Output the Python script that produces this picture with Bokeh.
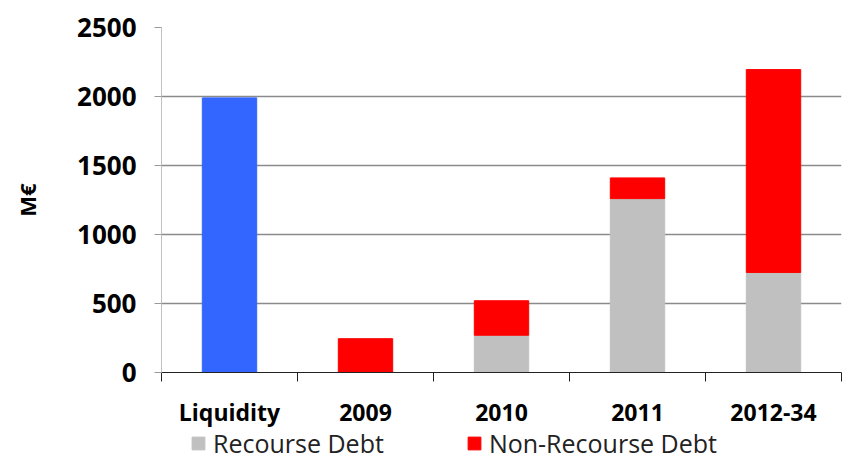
from bokeh.plotting import figure
from bokeh.layouts import column
from bokeh.models import ColumnDataSource, FixedTicker, Legend, LegendItem, Range1d
from bokeh.embed import file_html
from bokeh.resources import INLINE
import numpy as np

categories = ["Liquidity", "2009", "2010", "2011", "2012-34"]
liquidity = [1990, 0, 0, 0, 0]
recourse = [0, 0, 270, 1260, 725]
non_recourse = [0, 245, 250, 150, 1470]
y_ticks = [0, 500, 1000, 1500, 2000, 2500]
series_names = ["Recourse Debt", "Non-Recourse Debt"]
series_colors = ["#C0C0C0", "#FF0000"]

xc = np.arange(len(categories)) + 0.5
rec = np.array(recourse)
non = np.array(non_recourse)

src = ColumnDataSource(dict(x=xc, liq=liquidity, rec=rec, top2=rec + non))

p = figure(width=843, height=430, output_backend="svg", toolbar_location=None,
           x_range=Range1d(0, len(categories)), y_range=Range1d(0, 2500),
           min_border_left=161, min_border_right=2, min_border_top=27, min_border_bottom=58)
p.outline_line_color = None
p.xgrid.grid_line_color = None
p.ygrid.grid_line_color = "#8a8a8a"
p.ygrid.grid_line_width = 1.5
p.ygrid.ticker = FixedTicker(ticks=y_ticks)

w = 0.4
p.vbar(x="x", top="liq", width=w, source=src, color="#3366FF")
p.vbar(x="x", top="rec", bottom=0, width=w, source=src, color=series_colors[0])
p.vbar(x="x", top="top2", bottom="rec", width=w, source=src, color=series_colors[1])

# y axis
ya = p.yaxis[0]
ya.ticker = FixedTicker(ticks=y_ticks)
ya.axis_line_color = "#c0c0c0"
ya.major_tick_line_color = "#9a9a9a"
ya.major_tick_out = 7
ya.major_tick_in = 0
ya.minor_tick_line_color = None
ya.major_label_text_font = "Open Sans"
ya.major_label_text_font_style = "bold"
ya.major_label_text_font_size = "26px"
ya.major_label_text_color = "#000000"
ya.major_label_standoff = 18
ya.axis_label = "M€"
ya.axis_label_text_font = "Open Sans"
ya.axis_label_text_font_style = "bold"
ya.axis_label_text_font_size = "22px"
ya.axis_label_text_color = "#000000"
ya.axis_label_standoff = 32

# x axis
xa = p.xaxis[0]
xa.ticker = FixedTicker(ticks=list(xc), minor_ticks=list(range(len(categories) + 1)))
xa.major_label_overrides = {float(x): c for x, c in zip(xc, categories)}
xa.axis_line_color = "#222222"
xa.axis_line_width = 1.2
xa.major_tick_line_color = None
xa.minor_tick_line_color = "#222222"
xa.minor_tick_out = 9
xa.minor_tick_in = 0
xa.major_label_text_font = "Open Sans"
xa.major_label_text_font_style = "bold"
xa.major_label_text_font_size = "23px"
xa.major_label_text_color = "#000000"
xa.major_label_standoff = 14

# legend strip (its bars are hidden; only the legend shows)
pl = figure(width=843, height=30, output_backend="svg", toolbar_location=None,
            x_range=Range1d(0, len(categories)), y_range=Range1d(0, 2500),
            x_axis_type=None, y_axis_type=None, min_border=0,
            min_border_left=161, min_border_right=2)
pl.outline_line_color = None
pl.grid.visible = False
items = []
for name, col, vals in zip(series_names, series_colors, [rec, non]):
    r = pl.vbar(x=xc, top=vals, bottom=0, width=w, color=col, visible=False)
    items.append(LegendItem(label=name, renderers=[r]))

legend = Legend(items=items, orientation="horizontal", location=(29, 0))
legend.glyph_width = 16
legend.glyph_height = 16
legend.label_standoff = 7
legend.spacing = 82
legend.padding = 0
legend.margin = 0
legend.border_line_color = None
legend.background_fill_alpha = 0
legend.inactive_fill_alpha = 0
legend.label_text_font = "Open Sans"
legend.label_text_font_size = "25px"
legend.label_text_color = "#222222"
pl.add_layout(legend, "center")

layout = column(p, pl, spacing=0)
open("out.html", "w").write(file_html(layout, INLINE))
